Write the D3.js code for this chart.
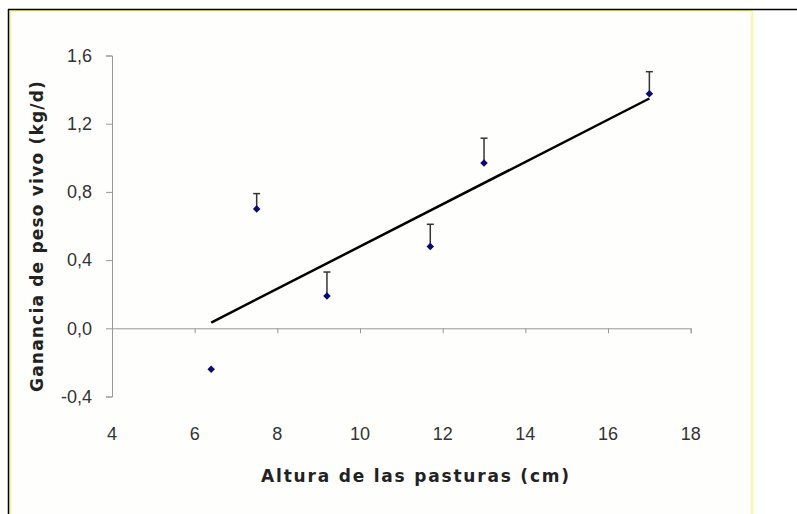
<!DOCTYPE html>
<html>
<head>
<meta charset="utf-8">
<script src="https://cdn.jsdelivr.net/npm/d3@7"></script>
<style>
  body { margin: 0; background: #fff; }
  svg { display: block; }
</style>
</head>
<body>
<svg id="chart" width="797" height="514"></svg>
<script>
// pasture height (cm) vs live weight gain (kg/d)
const heights = [6.4, 7.5, 9.2, 11.7, 13.0, 17.0];
const gains = [-0.24, 0.70, 0.19, 0.48, 0.97, 1.375];
const errUp = [0, 0.09, 0.14, 0.13, 0.145, 0.13];
const xTicks = [4, 6, 8, 10, 12, 14, 16, 18];
const yTicks = [-0.4, 0, 0.4, 0.8, 1.2, 1.6];

const svg = d3.select("#chart");

// frame: black edge lines + pale yellow border
svg.append("rect")
  .attr("x", 10).attr("y", 11).attr("width", 742).attr("height", 520)
  .attr("fill", "#fefefc").attr("stroke", "#fafa9a").attr("stroke-width", 2);
svg.append("line").attr("x1", 8).attr("x2", 797).attr("y1", 9.5).attr("y2", 9.5)
  .attr("stroke", "#000").attr("stroke-width", 1.5);
svg.append("line").attr("x1", 8.5).attr("x2", 8.5).attr("y1", 9).attr("y2", 514)
  .attr("stroke", "#000").attr("stroke-width", 1.5);

const x = d3.scaleLinear().domain([4, 18]).range([112, 690.7]);
const y = d3.scaleLinear().domain([-0.4, 1.6]).range([396.5, 55.5]);
const fmt = d => d.toFixed(1).replace(".", ",");

// x axis sits at y = 0
const xAxis = svg.append("g")
  .attr("transform", `translate(0,${y(0)})`)
  .call(d3.axisBottom(x).tickValues(xTicks).tickSize(5).tickFormat(""));
xAxis.select(".domain").attr("stroke", "#999");
xAxis.selectAll(".tick line").attr("stroke", "#999");

svg.append("g").selectAll("text")
  .data(xTicks)
  .join("text")
  .attr("x", d => x(d))
  .attr("y", 440)
  .attr("text-anchor", "middle")
  .attr("font-family", "Liberation Sans, Arial, sans-serif")
  .attr("font-size", 18)
  .attr("fill", "#333")
  .text(d => d);

const yAxis = svg.append("g")
  .attr("transform", `translate(${x(4)},0)`)
  .call(d3.axisLeft(y).tickValues(yTicks).tickSize(6).tickPadding(14).tickFormat(fmt));
yAxis.select(".domain").attr("stroke", "#999");
yAxis.selectAll(".tick line").attr("stroke", "#999");
yAxis.selectAll(".tick text")
  .attr("font-family", "Liberation Sans, Arial, sans-serif")
  .attr("font-size", 18)
  .attr("fill", "#333");

// axis titles
svg.append("text")
  .attr("x", 416).attr("y", 482)
  .attr("text-anchor", "middle")
  .attr("font-family", "DejaVu Sans, Verdana, sans-serif")
  .attr("font-weight", "bold")
  .attr("font-size", 17)
  .attr("letter-spacing", 1.8)
  .attr("fill", "#222")
  .text("Altura de las pasturas (cm)");

svg.append("text")
  .attr("transform", "translate(43,236) rotate(-90)")
  .attr("text-anchor", "middle")
  .attr("font-family", "DejaVu Sans, Verdana, sans-serif")
  .attr("font-weight", "bold")
  .attr("font-size", 17)
  .attr("letter-spacing", 1.2)
  .attr("fill", "#222")
  .text("Ganancia de peso vivo (kg/d)");

// least squares trend line
const mx = d3.mean(heights), my = d3.mean(gains);
const slope = d3.sum(heights, (h, i) => (h - mx) * (gains[i] - my)) /
  d3.sum(heights, h => (h - mx) ** 2);
const icpt = my - slope * mx;
const [x0, x1] = d3.extent(heights);
svg.append("line")
  .attr("x1", x(x0)).attr("y1", y(icpt + slope * x0))
  .attr("x2", x(x1)).attr("y2", y(icpt + slope * x1))
  .attr("stroke", "#000").attr("stroke-width", 2.5);

const pts = heights.map((h, i) => ({ h, g: gains[i], e: errUp[i] }));

// upward error bars with cap
const eb = svg.append("g").selectAll("g")
  .data(pts.filter(d => d.e > 0))
  .join("g");
eb.append("line")
  .attr("x1", d => x(d.h)).attr("x2", d => x(d.h))
  .attr("y1", d => y(d.g)).attr("y2", d => y(d.g + d.e))
  .attr("stroke", "#333").attr("stroke-width", 1.5);
eb.append("line")
  .attr("x1", d => x(d.h) - 3.5).attr("x2", d => x(d.h) + 3.5)
  .attr("y1", d => y(d.g + d.e)).attr("y2", d => y(d.g + d.e))
  .attr("stroke", "#333").attr("stroke-width", 1.5);

// diamond markers
svg.append("g").selectAll("path")
  .data(pts)
  .join("path")
  .attr("transform", d => `translate(${x(d.h)},${y(d.g)})`)
  .attr("d", d3.symbol(d3.symbolDiamond2, 36))
  .attr("fill", "#0a0a6e");
</script>
</body>
</html>
